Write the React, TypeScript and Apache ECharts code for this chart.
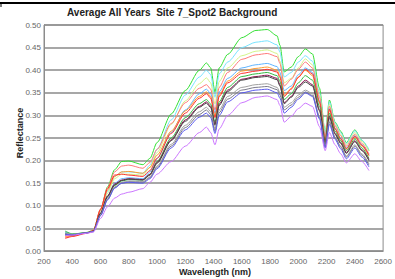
import React, { useEffect, useRef } from "react";
import * as echarts from "echarts";

const wavelengths = [350, 400, 500, 550, 600, 650, 700, 750, 800, 900, 950, 1000, 1100, 1200, 1300, 1350, 1380, 1410, 1440, 1500, 1600, 1700, 1780, 1850, 1870, 1900, 1950, 2000, 2050, 2100, 2150, 2190, 2220, 2260, 2300, 2340, 2400, 2450, 2500];

const sBrightGreen = [0.040, 0.037, 0.041, 0.046, 0.092, 0.142, 0.180, 0.198, 0.199, 0.191, 0.205, 0.240, 0.303, 0.355, 0.400, 0.416, 0.405, 0.352, 0.405, 0.435, 0.472, 0.488, 0.490, 0.476, 0.455, 0.396, 0.407, 0.430, 0.447, 0.436, 0.360, 0.262, 0.334, 0.285, 0.265, 0.240, 0.268, 0.245, 0.222];
const sCyan = [0.038, 0.036, 0.040, 0.045, 0.088, 0.132, 0.165, 0.175, 0.175, 0.172, 0.190, 0.225, 0.290, 0.345, 0.385, 0.400, 0.390, 0.340, 0.392, 0.418, 0.450, 0.462, 0.465, 0.456, 0.440, 0.385, 0.395, 0.418, 0.432, 0.420, 0.350, 0.258, 0.330, 0.283, 0.262, 0.238, 0.266, 0.245, 0.225];
const sYellowGreen = [0.036, 0.035, 0.040, 0.045, 0.086, 0.128, 0.160, 0.170, 0.170, 0.168, 0.185, 0.218, 0.280, 0.332, 0.370, 0.383, 0.372, 0.325, 0.375, 0.405, 0.432, 0.442, 0.445, 0.437, 0.420, 0.372, 0.382, 0.405, 0.425, 0.412, 0.345, 0.255, 0.325, 0.280, 0.258, 0.235, 0.262, 0.242, 0.222];
const sSalmon = [0.030, 0.033, 0.040, 0.046, 0.093, 0.140, 0.175, 0.188, 0.190, 0.183, 0.196, 0.225, 0.282, 0.328, 0.360, 0.368, 0.358, 0.312, 0.362, 0.395, 0.424, 0.434, 0.437, 0.430, 0.415, 0.365, 0.380, 0.402, 0.418, 0.405, 0.340, 0.252, 0.320, 0.277, 0.255, 0.232, 0.258, 0.238, 0.215];
const sLightBlue = [0.042, 0.037, 0.040, 0.044, 0.083, 0.122, 0.150, 0.160, 0.162, 0.160, 0.175, 0.205, 0.262, 0.312, 0.348, 0.358, 0.348, 0.305, 0.352, 0.382, 0.405, 0.412, 0.415, 0.408, 0.395, 0.355, 0.365, 0.390, 0.405, 0.395, 0.332, 0.248, 0.315, 0.272, 0.250, 0.228, 0.255, 0.235, 0.212];
const sOrange = [0.032, 0.034, 0.040, 0.045, 0.090, 0.135, 0.165, 0.175, 0.176, 0.172, 0.185, 0.212, 0.265, 0.310, 0.342, 0.352, 0.342, 0.298, 0.345, 0.376, 0.398, 0.404, 0.407, 0.400, 0.388, 0.345, 0.360, 0.385, 0.400, 0.388, 0.328, 0.246, 0.312, 0.270, 0.248, 0.226, 0.252, 0.232, 0.210];
const sRed = [0.028, 0.032, 0.039, 0.045, 0.092, 0.138, 0.168, 0.170, 0.168, 0.165, 0.178, 0.205, 0.260, 0.305, 0.338, 0.348, 0.338, 0.295, 0.342, 0.372, 0.393, 0.398, 0.402, 0.396, 0.384, 0.342, 0.358, 0.384, 0.402, 0.392, 0.330, 0.246, 0.314, 0.270, 0.248, 0.226, 0.254, 0.234, 0.212];
const sGreen = [0.044, 0.038, 0.040, 0.044, 0.082, 0.120, 0.145, 0.155, 0.158, 0.157, 0.170, 0.198, 0.250, 0.295, 0.326, 0.335, 0.325, 0.285, 0.330, 0.362, 0.386, 0.392, 0.395, 0.388, 0.375, 0.335, 0.348, 0.372, 0.388, 0.378, 0.320, 0.242, 0.305, 0.265, 0.244, 0.222, 0.248, 0.228, 0.205];
const sMagenta = [0.035, 0.035, 0.040, 0.044, 0.084, 0.122, 0.148, 0.157, 0.160, 0.158, 0.170, 0.196, 0.246, 0.290, 0.320, 0.330, 0.320, 0.280, 0.325, 0.356, 0.380, 0.386, 0.389, 0.382, 0.368, 0.328, 0.342, 0.365, 0.378, 0.368, 0.312, 0.238, 0.298, 0.260, 0.240, 0.218, 0.244, 0.224, 0.202];
const sBlack = [0.038, 0.036, 0.040, 0.044, 0.083, 0.120, 0.146, 0.156, 0.159, 0.157, 0.168, 0.194, 0.244, 0.287, 0.318, 0.327, 0.317, 0.278, 0.322, 0.353, 0.378, 0.384, 0.386, 0.379, 0.365, 0.326, 0.340, 0.362, 0.374, 0.365, 0.310, 0.236, 0.295, 0.258, 0.238, 0.216, 0.242, 0.222, 0.200];
const sGray = [0.040, 0.037, 0.040, 0.043, 0.080, 0.116, 0.142, 0.152, 0.155, 0.154, 0.164, 0.188, 0.236, 0.278, 0.308, 0.318, 0.308, 0.270, 0.312, 0.342, 0.362, 0.368, 0.370, 0.362, 0.350, 0.318, 0.328, 0.345, 0.356, 0.348, 0.298, 0.232, 0.288, 0.252, 0.232, 0.210, 0.235, 0.215, 0.193];
const sGray2 = [0.036, 0.036, 0.040, 0.043, 0.079, 0.114, 0.140, 0.150, 0.153, 0.152, 0.162, 0.185, 0.232, 0.273, 0.302, 0.312, 0.302, 0.265, 0.306, 0.336, 0.356, 0.362, 0.364, 0.357, 0.345, 0.312, 0.323, 0.340, 0.352, 0.344, 0.295, 0.230, 0.285, 0.250, 0.230, 0.208, 0.232, 0.212, 0.190];
const sBlue = [0.037, 0.036, 0.040, 0.043, 0.078, 0.113, 0.139, 0.150, 0.152, 0.150, 0.160, 0.182, 0.228, 0.268, 0.296, 0.305, 0.295, 0.260, 0.300, 0.330, 0.350, 0.356, 0.358, 0.350, 0.338, 0.305, 0.318, 0.336, 0.350, 0.342, 0.292, 0.228, 0.280, 0.247, 0.226, 0.204, 0.228, 0.208, 0.186];
const sPurple = [0.034, 0.035, 0.039, 0.042, 0.072, 0.098, 0.117, 0.126, 0.130, 0.138, 0.152, 0.170, 0.198, 0.232, 0.262, 0.274, 0.262, 0.235, 0.270, 0.300, 0.328, 0.340, 0.343, 0.335, 0.322, 0.285, 0.298, 0.315, 0.327, 0.320, 0.275, 0.222, 0.262, 0.235, 0.215, 0.195, 0.215, 0.198, 0.178];

const seriesList = [
  { name: "s1", color: "#33e033", values: sBrightGreen },
  { name: "s2", color: "#77e4ff", values: sCyan },
  { name: "s3", color: "#d4f58a", values: sYellowGreen },
  { name: "s4", color: "#ff7a7a", values: sSalmon },
  { name: "s5", color: "#5fb4ff", values: sLightBlue },
  { name: "s6", color: "#ff9a2e", values: sOrange },
  { name: "s7", color: "#ff3030", values: sRed },
  { name: "s8", color: "#33bb44", values: sGreen },
  { name: "s9", color: "#8a1050", values: sMagenta },
  { name: "s10", color: "#444444", values: sBlack },
  { name: "s11", color: "#a0a0a0", values: sGray },
  { name: "s12", color: "#7a7a8a", values: sGray2 },
  { name: "s13", color: "#5a5aee", values: sBlue },
  { name: "s14", color: "#cc77ff", values: sPurple },
];

const yTicks = [0, 0.05, 0.1, 0.15, 0.2, 0.25, 0.3, 0.35, 0.4, 0.45, 0.5];
const titleText = "Average All Years  Site 7_Spot2 Background";
const xName = "Wavelength (nm)";
const yName = "Reflectance";

export default function App() {
  const ref = useRef<HTMLDivElement>(null);
  useEffect(() => {
    if (!ref.current) return;
    const chart = echarts.init(ref.current, null, { renderer: "svg" });
    const font = "Liberation Sans, Arial, sans-serif";
    chart.setOption({
      animation: false,
      backgroundColor: "#ffffff",
      grid: { left: 44, right: 9, top: 25, bottom: 28, show: true, borderColor: "#8c8c8c", borderWidth: 1 },
      xAxis: {
        type: "value",
        min: 200,
        max: 2600,
        interval: 200,
        axisLine: { show: true, lineStyle: { color: "#8c8c8c" } },
        axisTick: { show: false },
        splitLine: { show: false },
        axisLabel: { fontSize: 8, color: "#666", margin: 6, fontFamily: font, formatter: (v: number) => String(Math.round(v)) },
      },
      yAxis: {
        type: "value",
        min: 0,
        max: 0.5,
        interval: 0.05,
        axisLine: { show: true, lineStyle: { color: "#8c8c8c" } },
        axisTick: { show: false },
        splitLine: { show: true, lineStyle: { color: "#8a8a8a", width: 1.5 } },
        axisLabel: {
          fontSize: 8,
          color: "#666",
          margin: 3,
          fontFamily: font,
          formatter: (v: number) => {
            const t = yTicks.find((k) => Math.abs(k - v) < 1e-9);
            return (t !== undefined ? t : v).toFixed(2);
          },
        },
      },
      series: seriesList.map((s) => ({
        name: s.name,
        type: "line",
        data: wavelengths.map((w, i) => [w, s.values[i]]),
        showSymbol: false,
        symbol: "none",
        smooth: 0.25,
        smoothMonotone: "x",
        lineStyle: { width: 1, color: s.color },
        itemStyle: { color: s.color },
      })),
      graphic: [
        { type: "line", shape: { x1: 0, y1: 3, x2: 395, y2: 3 }, style: { stroke: "#000", lineWidth: 2 } },
        { type: "line", shape: { x1: 1, y1: 3, x2: 1, y2: 7 }, style: { stroke: "#000", lineWidth: 1 } },
        {
          type: "text",
          x: 67,
          y: 12,
          style: { text: titleText, font: `bold 10px ${font}`, fill: "#222", align: "left", verticalAlign: "middle" },
        },
        {
          type: "text",
          x: 215,
          y: 272,
          style: { text: xName, font: `bold 9px ${font}`, fill: "#222", align: "center", verticalAlign: "middle" },
        },
        {
          type: "text",
          x: 20,
          y: 133,
          rotation: Math.PI / 2,
          style: { text: yName, font: `bold 9px ${font}`, fill: "#222", align: "center", verticalAlign: "middle" },
        },
      ],
    });
    return () => chart.dispose();
  }, []);
  return <div ref={ref} style={{ width: 395, height: 279, position: "absolute", left: 0, top: 0 }} />;
}
